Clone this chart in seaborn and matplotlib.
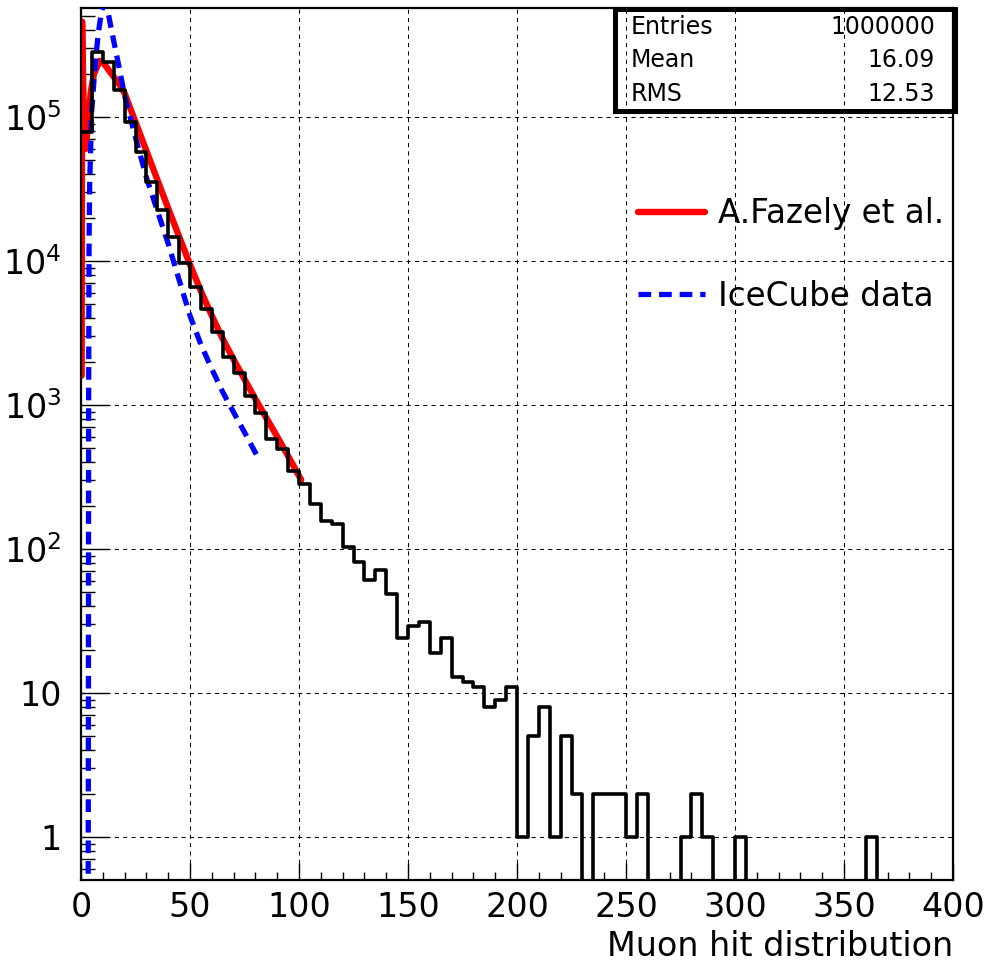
import numpy as np
import pandas as pd
import matplotlib
matplotlib.use("Agg")
import matplotlib.pyplot as plt
import seaborn as sns
from matplotlib.patches import Rectangle
from matplotlib.ticker import FixedLocator, FixedFormatter, LogLocator, NullFormatter, MultipleLocator

# ---------------- data ----------------
bin_width = 5
x_range = (0, 400)
hist_counts = [
    79000, 284000, 242000, 154000, 92700, 57400, 35600, 22600, 14700, 9730,
    6560, 4620, 3200, 2165, 1675, 1160, 885, 578, 492, 350,
    281, 204, 157, 149, 104, 81, 61, 72, 49, 24,
    29, 31, 19, 24, 13, 12, 11, 8, 9, 11,
    1, 5, 8, 1, 5, 2, 0, 2, 2, 2,
    1, 2, 0, 0, 0, 1, 2, 1, 0, 0,
    1, 0, 0, 0, 0, 0, 0, 0, 0, 0,
    0, 0, 1, 0, 0, 0, 0, 0, 0, 0,
]

red_x = [0.3, 0.5, 1.2, 2.2, 3.2, 4.5, 6.0, 8.5,
         10, 12, 15, 17, 20,
         25, 30, 35, 40, 45, 50, 55, 60, 65, 70, 75, 80, 85, 90, 95, 101]
red_y = [1600, 460000, 120000, 60000, 90000, 150000, 200000, 245000,
         240000, 219000, 190000, 174000, 146000,
         92200, 58200, 36700, 23200, 14800, 9440, 6170, 4170, 2880, 2070,
         1510, 1100, 813, 603, 442, 302]

blue_x = [3.3, 3.4, 3.5, 3.7, 4.0, 4.4, 4.9, 6.4, 7.9, 9.5, 11, 12.5, 14, 17,
          20, 25, 30, 35, 40, 45, 50, 55, 60, 65, 70, 75, 81]
blue_y = [0.4, 10, 1000, 14000, 35000, 59000, 110000, 220000, 380000, 550000,
          620000, 525000, 400000, 240000, 141000, 72000, 38000, 22400, 13200,
          7400, 4170, 2630, 1780, 1230, 890, 646, 437]

x_ticks = [0, 50, 100, 150, 200, 250, 300, 350, 400]
y_ticks = [1, 10, 100, 1000, 10000, 100000]
y_tick_labels = ["1", "10", "$10^{2}$", "$10^{3}$", "$10^{4}$", "$10^{5}$"]
x_label = "Muon hit distribution"
legend_labels = ["A.Fazely et al.", "IceCube data"]
stats_labels = ["Entries", "Mean", "RMS"]
stats_values = ["1000000", "16.09", "12.53"]

# ---------------- style ----------------
sns.set_theme(style="white")
plt.rcParams["font.family"] = ["DejaVu Sans"]
plt.rcParams["mathtext.fontset"] = "dejavusans"
for k in ["text.color", "axes.labelcolor", "xtick.color", "ytick.color", "axes.edgecolor"]:
    plt.rcParams[k] = "black"

W, H = 992, 967
fig = plt.figure(figsize=(W / 100, H / 100), dpi=100)
fig.patch.set_facecolor("white")
ax = fig.add_axes([81 / W, 87 / H, 872 / W, 872 / H])
ax.set_facecolor("white")

bin_centers = np.arange(x_range[0], x_range[1], bin_width) + bin_width / 2
hist_df = pd.DataFrame({"x": bin_centers, "w": hist_counts})
red_df = pd.DataFrame({"x": red_x, "y": red_y})
blue_df = pd.DataFrame({"x": blue_x, "y": blue_y})

sns.lineplot(data=red_df, x="x", y="y", sort=False, estimator=None, color="#ff0000",
             linewidth=4.6, ax=ax, label=legend_labels[0], zorder=2)
sns.lineplot(data=blue_df, x="x", y="y", sort=False, estimator=None, color="#0000ff",
             linewidth=3.8, ax=ax, label=legend_labels[1], zorder=3)
red_line, blue_line = ax.lines[0], ax.lines[1]
blue_line.set_dashes((2.4, 1.5))
blue_line.set_dash_capstyle("butt")

sns.histplot(data=hist_df, x="x", weights="w", binwidth=bin_width, binrange=x_range,
             element="step", fill=False, color="black", linewidth=2.6, ax=ax, zorder=4)

ax.set_yscale("log")
ax.set_xlim(*x_range)
ax.set_ylim(0.503, 5.71e5)

# ticks
ax.xaxis.set_major_locator(FixedLocator(x_ticks))
ax.xaxis.set_minor_locator(MultipleLocator(10))
ax.yaxis.set_major_locator(FixedLocator(y_ticks))
ax.yaxis.set_major_formatter(FixedFormatter(y_tick_labels))
ax.yaxis.set_minor_locator(LogLocator(base=10, subs=np.arange(2, 10), numticks=30))
ax.yaxis.set_minor_formatter(NullFormatter())
ax.tick_params(axis="both", which="both", direction="in", top=False, right=False,
               bottom=True, left=True, color="black", labelcolor="black", width=1.0)
ax.tick_params(axis="x", which="major", length=12, labelsize=24, pad=8)
ax.tick_params(axis="x", which="minor", length=6)
ax.tick_params(axis="y", which="major", length=20, labelsize=24, pad=14)
ax.tick_params(axis="y", which="minor", length=10)

ax.grid(True, which="major", color="black", linestyle=(0, (4, 4)), linewidth=0.75)
for s in ax.spines.values():
    s.set_color("black")
    s.set_linewidth(1.6)

ax.set_xlabel(x_label, fontsize=24, loc="right", labelpad=4, color="black")
ax.set_ylabel("")

# legend
leg = ax.legend(handles=[red_line, blue_line], labels=legend_labels,
                loc="upper left", bbox_to_anchor=(638 / W, 1 - 197 / H),
                bbox_transform=fig.transFigure, frameon=False, fontsize=23.5,
                handlelength=2.05, handletextpad=0.4, labelspacing=1.52,
                borderpad=0, borderaxespad=0, labelcolor="black")

# stats box
box = Rectangle((614.5 / W, 1 - 110.5 / H), (954.5 - 614.5) / W, (110.5 - 9.5) / H,
                transform=fig.transFigure, fill=False, edgecolor="black",
                linewidth=3.6, zorder=10)
fig.patches.append(box)
for i, (lab, val) in enumerate(zip(stats_labels, stats_values)):
    yc = 1 - (27 + 33.3 * i) / H
    fig.text(631 / W, yc, lab, ha="left", va="center", fontsize=17, color="black")
    fig.text(935 / W, yc, val, ha="right", va="center", fontsize=17, color="black")

fig.savefig("out.png", dpi=100)
